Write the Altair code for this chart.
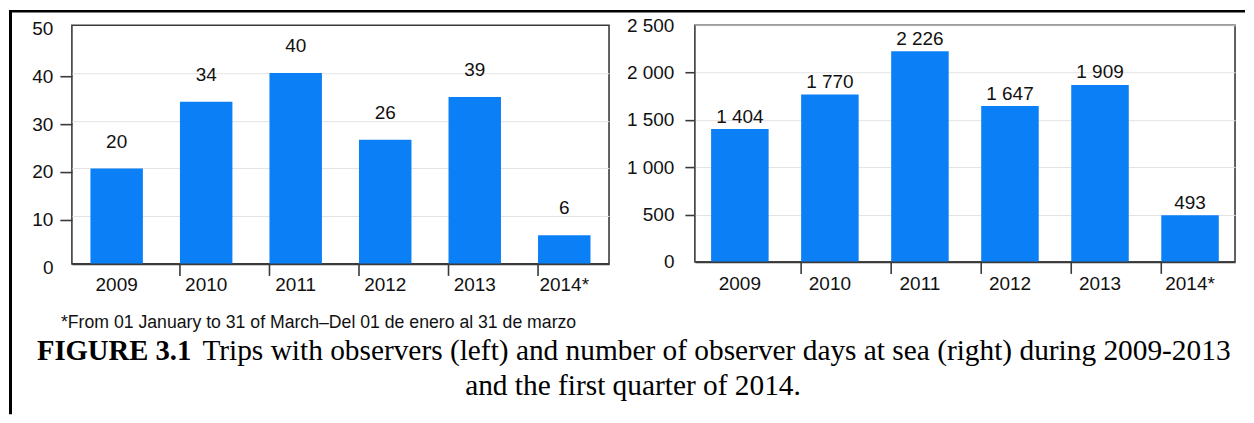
import altair as alt
import pandas as pd

# ---------------- data ----------------
years = ["2009", "2010", "2011", "2012", "2013", "2014*"]
trips_bar = [20, 34, 40, 26, 35, 6]          # bar heights as drawn
trips_label = [20, 34, 40, 26, 39, 6]        # printed values
days_bar = [1404, 1770, 2226, 1647, 1870, 493]
days_label = [1404, 1770, 2226, 1647, 1909, 493]
trips_ticks = [0, 10, 20, 30, 40, 50]
trips_grid = [10, 20, 30, 40]
days_ticks = [0, 500, 1000, 1500, 2000, 2500]

footnote = "*From 01 January to 31 of March\u2013Del 01 de enero al 31 de marzo"
caption_bold = "FIGURE 3.1"
caption_line1 = "Trips with observers (left) and number of observer days at sea (right) during 2009-2013"
caption_line2 = "and the first quarter of 2014."

# ---------------- style ----------------
BLUE = "#0b80f6"
FONT = "Liberation Sans"
SERIF = "Liberation Serif"
TXT = "#111111"
GRID = "#e3e3e3"
FRAME = "#3a3a3a"

WL, HL = 538, 239
WR, HR = 541, 237

hide_edge = lambda lo, hi: {
    "condition": {"test": f"datum.value === {lo} || datum.value === {hi}", "value": 0},
    "value": 1,
}

def x_axis(pad):
    return alt.Axis(title=None, ticks=False, tickSize=0, domain=True, domainColor=FRAME,
                    domainWidth=1.6, zindex=1, labelPadding=pad, labelFontSize=19,
                    labelFont=FONT, labelColor=TXT, labelAngle=0, grid=False)

# ---------------- left panel ----------------
left_df = pd.DataFrame({"year": years, "bar": trips_bar, "label": trips_label})
sep_df_l = pd.DataFrame({"year": years[1:]})
xL_scale = alt.Scale(domain=years, paddingInner=0.414, paddingOuter=0.207)
yL_scale = alt.Scale(domain=[0, 50], nice=False, zero=True)

barsL = alt.Chart(left_df).mark_bar(color=BLUE).encode(
    x=alt.X("year:N", scale=xL_scale, sort=years, axis=x_axis(12)),
    y=alt.Y("bar:Q", scale=yL_scale,
            axis=alt.Axis(title=None, values=trips_grid, grid=True, gridColor=GRID,
                          ticks=False, labels=False, domain=False, orient="left")),
)
labelsL = alt.Chart(left_df).mark_text(dy=-27, baseline="middle", fontSize=19, font=FONT,
                                        color=TXT).encode(
    x=alt.X("year:N", scale=xL_scale, sort=years),
    y=alt.Y("bar:Q", scale=yL_scale),
    text=alt.Text("label:Q"),
)
sepsL = alt.Chart(sep_df_l).mark_rule(color=FRAME, strokeWidth=1.6).encode(
    x=alt.X("year:N", scale=xL_scale, sort=years, bandPosition=0),
    y=alt.value(HL), y2=alt.value(HL + 12),
)
innerL = alt.layer(barsL, labelsL, sepsL)

axisL = alt.Chart(pd.DataFrame({"v": trips_ticks})).mark_point(opacity=0).encode(
    y=alt.Y("v:Q", scale=alt.Scale(domain=[0, 50], nice=False),
            axis=alt.Axis(title=None, values=trips_ticks, grid=False, domain=False,
                          tickSize=12, tickColor=FRAME, tickWidth=1.6, labelPadding=7,
                          tickOffset=3.5,
                          labelFontSize=19, labelFont=FONT, labelColor=TXT, orient="left",
                          tickOpacity=hide_edge(0, 50))),
)

# decorations: page frame and captions (pixel positions relative to left plot)
one = pd.DataFrame({"k": [0]})
frame_left = alt.Chart(one).mark_rect(color="black").encode(
    x=alt.value(-63), x2=alt.value(-60), y=alt.value(-15.3), y2=alt.value(389.5))
frame_top = alt.Chart(one).mark_rect(color="black").encode(
    x=alt.value(-63), x2=alt.value(1175), y=alt.value(-15.3), y2=alt.value(-12.8))

foot = alt.Chart(pd.DataFrame({"t": [footnote]})).mark_text(
    align="left", baseline="alphabetic", font=FONT, fontSize=17.7, color=TXT).encode(
    text="t:N", x=alt.value(-11), y=alt.value(303.4))
cap_b = alt.Chart(pd.DataFrame({"t": [caption_bold]})).mark_text(
    align="left", baseline="alphabetic", font=SERIF, fontSize=28.7, fontWeight="bold",
    color="black").encode(text="t:N", x=alt.value(-35), y=alt.value(335.7))
cap_1 = alt.Chart(pd.DataFrame({"t": [caption_line1]})).mark_text(
    align="left", baseline="alphabetic", font=SERIF, fontSize=29.4, color="black").encode(
    text="t:N", x=alt.value(130.7), y=alt.value(335.7))
cap_2 = alt.Chart(pd.DataFrame({"t": [caption_line2]})).mark_text(
    align="center", baseline="alphabetic", font=SERIF, fontSize=29.4, color="black").encode(
    text="t:N", x=alt.value(562), y=alt.value(370.7))

left = alt.layer(innerL, axisL, frame_left, frame_top, foot, cap_b, cap_1, cap_2).resolve_scale(
    y="independent").properties(width=WL, height=HL)

# ---------------- right panel ----------------
right_df = pd.DataFrame({"year": years, "bar": days_bar, "label": days_label})
sep_df_r = pd.DataFrame({"year": years[1:]})
xR_scale = alt.Scale(domain=years, paddingInner=0.361, paddingOuter=0.18)
yR_scale = alt.Scale(domain=[0, 2500], nice=False, zero=True)
space_fmt = "replace(format(datum.value, ','), ',', ' ')"

barsR = alt.Chart(right_df).mark_bar(color=BLUE).encode(
    x=alt.X("year:N", scale=xR_scale, sort=years, axis=x_axis(13)),
    y=alt.Y("bar:Q", scale=yR_scale,
            axis=alt.Axis(title=None, values=days_ticks, grid=True, gridColor=GRID,
                          domain=False, tickSize=10, tickColor=FRAME, tickWidth=1.6,
                          labelPadding=11, labelFontSize=19, labelFont=FONT, labelColor=TXT,
                          labelExpr=space_fmt, tickOpacity=hide_edge(0, 2500))),
)
labelsR = alt.Chart(right_df).transform_calculate(
    lab="replace(format(datum.label, ','), ',', ' ')"
).mark_text(dy=-12.5, baseline="middle", fontSize=19, font=FONT, color=TXT).encode(
    x=alt.X("year:N", scale=xR_scale, sort=years),
    y=alt.Y("bar:Q", scale=yR_scale),
    text=alt.Text("lab:N"),
)
sepsR = alt.Chart(sep_df_r).mark_rule(color=FRAME, strokeWidth=1.6).encode(
    x=alt.X("year:N", scale=xR_scale, sort=years, bandPosition=0),
    y=alt.value(HR), y2=alt.value(HR + 12),
)
right = alt.layer(barsR, labelsR, sepsR).properties(width=WR, height=HR)

chart = alt.hconcat(left, right, spacing=86, bounds="flush").properties(
    padding=0, background="white"
).configure_view(stroke=FRAME, strokeWidth=1.6)

chart.save("out.html", embed_options={"renderer": "svg", "actions": False})
